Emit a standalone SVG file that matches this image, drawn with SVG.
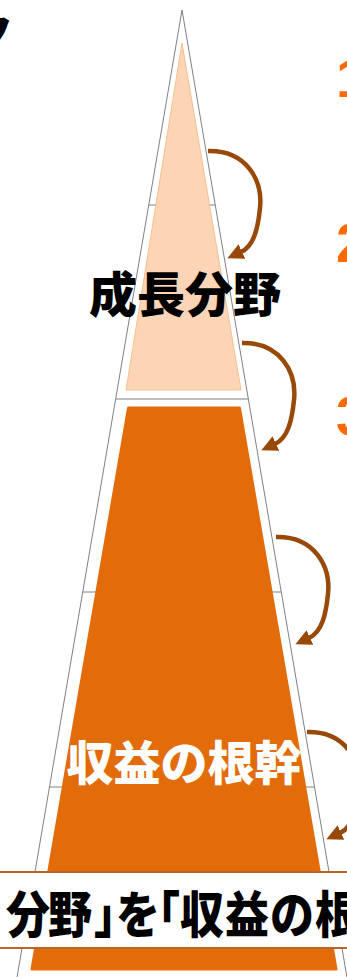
<svg xmlns="http://www.w3.org/2000/svg" width="347" height="977" viewBox="0 0 347 977">
  <style>
    .outline { fill: #FFFFFF; stroke: #808080; stroke-width: 1; }
    .divider { stroke: #808080; stroke-width: 1; fill: none; }
    .jp { font-family: "Noto Sans CJK JP", "Noto Sans", sans-serif; font-weight: 900; }
    .num { font-family: "Liberation Sans", Arial, sans-serif; font-weight: bold; font-size: 56px; fill: #FF6A00; }
    .arc { fill: none; stroke: #984807; stroke-width: 4.5; marker-end: url(#head); }
  </style>
  <defs>
    <marker id="head" viewBox="0 0 16 16" refX="1" refY="8" markerWidth="16" markerHeight="16" markerUnits="userSpaceOnUse" orient="auto">
      <path d="M0,0 L16,8 L0,16 z" fill="#984807"/>
    </marker>
  </defs>
  <rect width="347" height="977" fill="#FFFFFF"/>

  <g id="title-fragment">
    <text class="jp" x="-31" y="49" font-size="44" fill="#000000">ク</text>
  </g>

  <g id="pyramid">
    <polygon class="outline" points="182,10 348.8,988 15.2,988"/>
    <line class="divider" x1="148.7" y1="205" x2="215.3" y2="205"/>
    <line class="divider" x1="115.6" y1="399" x2="248.4" y2="399"/>
    <line class="divider" x1="82.7" y1="592" x2="281.3" y2="592"/>
    <line class="divider" x1="49.4" y1="787" x2="314.6" y2="787"/>
  </g>

  <g id="growth">
    <polygon points="182,43 241,390 126,390" fill="#FBD5B5" stroke="#F9BF8E" stroke-width="1"/>
    <text class="jp" x="185" y="312" font-size="48" text-anchor="middle" fill="#000000">成長分野</text>
  </g>

  <g id="core">
    <polygon points="128.5,408 239.5,408 336,969 32,969" fill="#E36C0A" stroke="#E36C0A" stroke-width="3" stroke-linejoin="round"/>
    <text class="jp" x="184" y="780" font-size="47" text-anchor="middle" fill="#FFFFFF">収益の根幹</text>
  </g>

  <g id="numbers">
    <text class="num" x="336" y="97">1</text>
    <text class="num" x="336" y="262">2</text>
    <text class="num" x="336" y="435">3</text>
  </g>

  <g id="connectors">
    <path class="arc" d="M208,151 C246,150 263,180 260,208 C258,228 254,246 241,252"/>
    <path class="arc" transform="translate(34,192)" d="M208,151 C246,150 263,180 260,208 C258,228 254,246 241,252"/>
    <path class="arc" transform="translate(68,386)" d="M208,151 C246,150 263,180 260,208 C258,228 254,246 241,252"/>
    <path class="arc" transform="translate(99,581)" d="M208,151 C246,150 263,180 260,208 C258,228 254,246 241,252"/>
  </g>

  <g id="banner">
    <rect x="-5" y="872" width="357" height="76" fill="#FFFFFF" stroke="#B9652A" stroke-width="2"/>
    <text class="jp" transform="scale(0.88,1)" y="933" font-size="50" fill="#000000"><tspan x="6.8">分</tspan><tspan x="54.5">野</tspan><tspan x="106.8">」</tspan><tspan x="131.8">を</tspan><tspan x="154.5">「</tspan><tspan x="204.5">収</tspan><tspan x="255.7">益</tspan><tspan x="306.8">の</tspan><tspan x="358">根</tspan></text>
  </g>
</svg>
